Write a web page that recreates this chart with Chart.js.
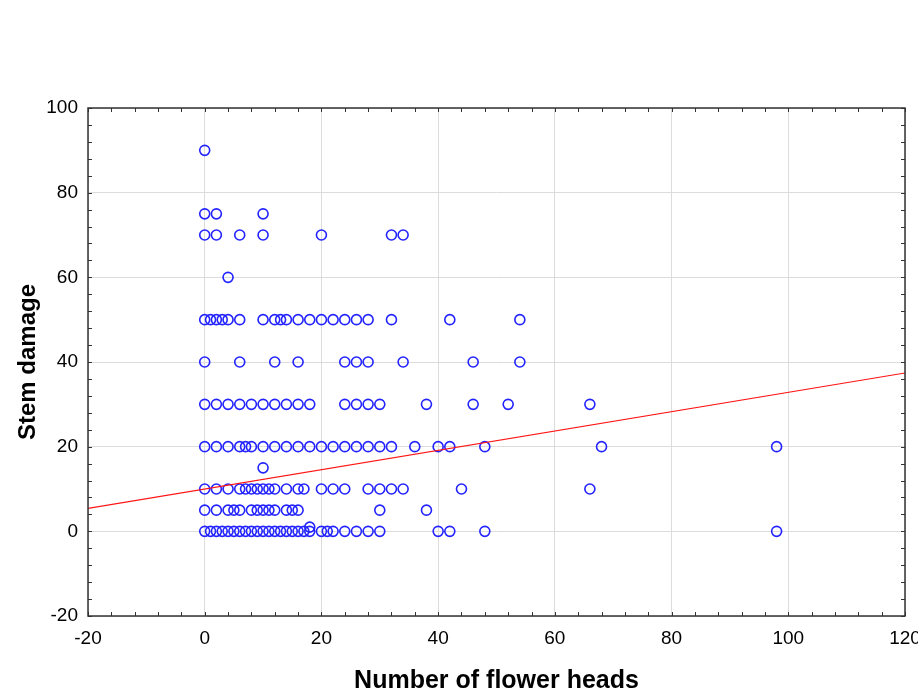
<!DOCTYPE html>
<html>
<head>
<meta charset="utf-8">
<script src="https://cdn.jsdelivr.net/npm/chart.js@4/dist/chart.umd.min.js"></script>
<style>
  html, body { margin: 0; padding: 0; background: #fff; }
  #wrap { width: 918px; height: 693px; }
</style>
</head>
<body>
<div id="wrap"><canvas id="scatterChart" width="918" height="693"></canvas></div>
<script>
// flower heads observed at each stem damage level
const stemDamageLevels = [0, 5, 10, 15, 20, 30, 40, 50, 60, 70, 75, 90];
const headsDamage0  = [0, 1, 2, 3, 4, 5, 6, 7, 8, 9, 10, 11, 12, 13, 14, 15, 16, 17, 18, 20, 21, 22, 24, 26, 28, 30, 40, 42, 48, 98];
const headsDamage5  = [0, 2, 4, 5, 6, 8, 9, 10, 11, 12, 14, 15, 16, 30, 38];
const headsDamage10 = [0, 2, 4, 6, 7, 8, 9, 10, 11, 12, 14, 16, 17, 20, 22, 24, 28, 30, 32, 34, 44, 66];
const headsDamage15 = [10];
const headsDamage20 = [0, 2, 4, 6, 7, 8, 10, 12, 14, 16, 18, 20, 22, 24, 26, 28, 30, 32, 36, 40, 42, 48, 68, 98];
const headsDamage30 = [0, 2, 4, 6, 8, 10, 12, 14, 16, 18, 24, 26, 28, 30, 38, 46, 52, 66];
const headsDamage40 = [0, 6, 12, 16, 24, 26, 28, 34, 46, 54];
const headsDamage50 = [0, 1, 2, 3, 4, 6, 10, 12, 13, 14, 16, 18, 20, 22, 24, 26, 28, 32, 42, 54];
const headsDamage60 = [4];
const headsDamage70 = [0, 2, 6, 10, 20, 32, 34];
const headsDamage75 = [0, 2, 10];
const headsDamage90 = [0];
// single slightly raised point near the zero row
const extraHeads = [18];
const extraDamage = [1];

// fitted line end points
const fitX = [-20, 120];
const fitY = [5.4, 37.4];

const xTicks = [-20, 0, 20, 40, 60, 80, 100, 120];
const yTicks = [-20, 0, 20, 40, 60, 80, 100];

const headsByLevel = [headsDamage0, headsDamage5, headsDamage10, headsDamage15, headsDamage20,
  headsDamage30, headsDamage40, headsDamage50, headsDamage60, headsDamage70, headsDamage75, headsDamage90];

const points = [];
stemDamageLevels.forEach((d, i) => {
  headsByLevel[i].forEach(h => points.push({ x: h, y: d }));
});
extraHeads.forEach((h, i) => points.push({ x: h, y: extraDamage[i] }));

const fitLine = fitX.map((x, i) => ({ x: x, y: fitY[i] }));

// frame around the plot plus small inside ticks
const framePlugin = {
  id: 'frame',
  afterDraw(chart) {
    const { ctx, chartArea: a, scales } = chart;
    ctx.save();
    ctx.strokeStyle = '#333';
    ctx.lineWidth = 1;
    ctx.beginPath();
    for (let v = -20; v <= 120; v += 4) {
      const px = Math.round(scales.x.getPixelForValue(v)) + 0.5;
      ctx.moveTo(px, a.bottom); ctx.lineTo(px, a.bottom - 4);
      ctx.moveTo(px, a.top); ctx.lineTo(px, a.top + 4);
    }
    for (let v = -20; v <= 100; v += 4) {
      const py = Math.round(scales.y.getPixelForValue(v)) + 0.5;
      ctx.moveTo(a.left, py); ctx.lineTo(a.left + 4, py);
      ctx.moveTo(a.right, py); ctx.lineTo(a.right - 4, py);
    }
    ctx.stroke();
    ctx.lineWidth = 1.5;
    ctx.strokeRect(a.left, a.top, a.right - a.left, a.bottom - a.top);
    ctx.restore();
  }
};

const tickFont = { family: "'Liberation Sans', Arial, sans-serif", size: 19 };
const titleFont = { family: "'Liberation Sans', Arial, sans-serif", size: 24, weight: 'bold' };

new Chart(document.getElementById('scatterChart'), {
  type: 'scatter',
  data: {
    datasets: [
      {
        label: 'Fit',
        data: fitLine,
        showLine: true,
        borderColor: 'rgb(255, 20, 20)',
        borderWidth: 1.2,
        pointRadius: 0
      },
      {
        label: 'Stem damage',
        data: points,
        pointStyle: 'circle',
        pointRadius: 5,
        pointBorderWidth: 1.6,
        borderColor: 'rgb(35, 35, 255)',
        backgroundColor: 'rgba(0,0,0,0)'
      }
    ]
  },
  options: {
    responsive: false,
    animation: false,
    layout: { padding: { top: 108, right: 13, left: 0, bottom: 0 } },
    plugins: {
      legend: { display: false },
      tooltip: { enabled: false }
    },
    scales: {
      x: {
        type: 'linear',
        min: -20,
        max: 120,
        afterBuildTicks: s => { s.ticks = xTicks.map(v => ({ value: v })); },
        afterFit: s => { s.height = 77; s.paddingLeft = 0; s.paddingRight = 0; },
        grid: { color: '#dcdcdc', drawTicks: false },
        border: { display: false },
        ticks: { color: '#000', font: tickFont, padding: 11 },
        title: {
          display: true,
          text: 'Number of flower heads',
          color: '#000',
          font: { ...titleFont, size: 25 },
          padding: { top: 0, bottom: -3 }
        }
      },
      y: {
        type: 'linear',
        min: -20,
        max: 100,
        afterBuildTicks: s => { s.ticks = yTicks.map(v => ({ value: v })); },
        afterFit: s => { s.width = 88; s.paddingTop = 0; s.paddingBottom = 0; },
        grid: { color: '#dcdcdc', drawTicks: false },
        border: { display: false },
        ticks: { color: '#000', font: tickFont, padding: 10 },
        title: {
          display: true,
          text: 'Stem damage',
          color: '#000',
          font: titleFont,
          padding: { top: 14, bottom: 0 }
        }
      }
    }
  },
  plugins: [framePlugin]
});
</script>
</body>
</html>
